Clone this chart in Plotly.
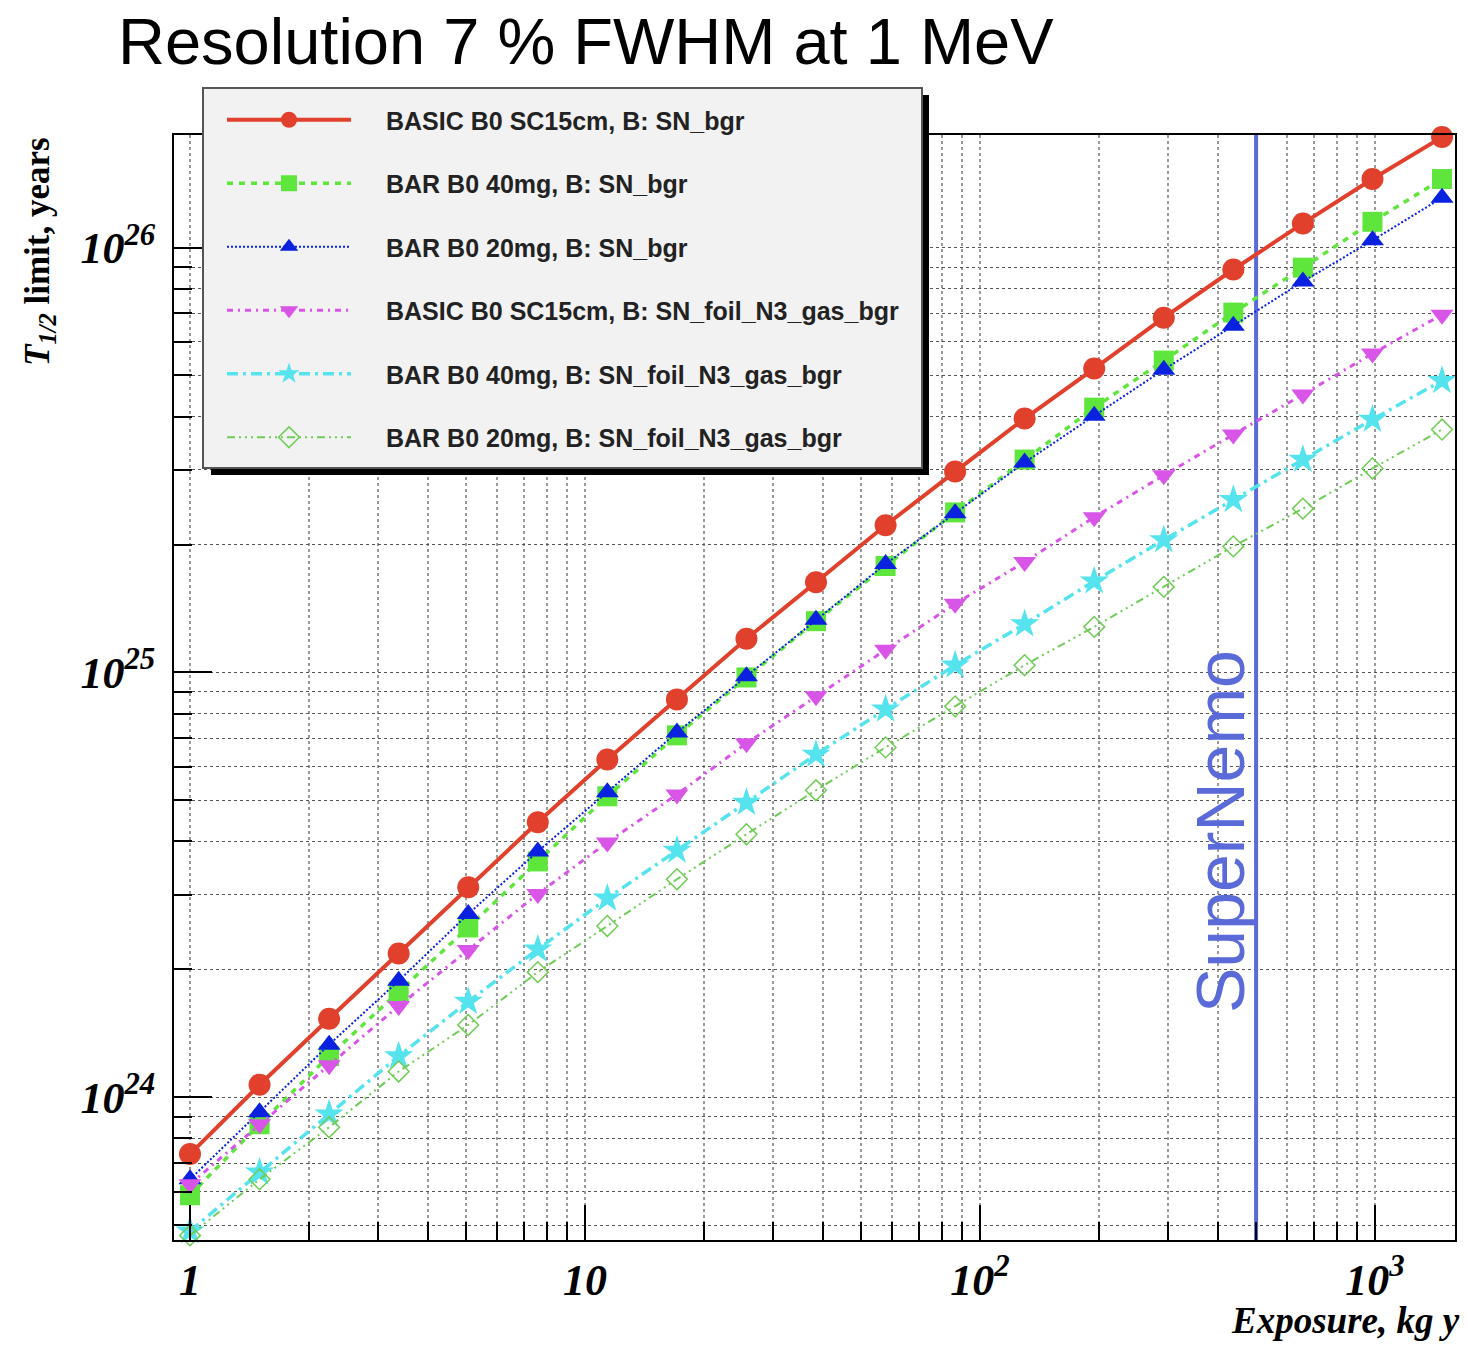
import plotly.graph_objects as go

# ---------------- data ----------------
exposure = [1, 1.5, 2.25, 3.375, 5.0625, 7.594, 11.39, 17.09, 25.63, 38.44,
            57.67, 86.50, 129.7, 194.6, 291.9, 437.9, 656.8, 985.3, 1477.9]

basic_sn = [7.35e23, 1.07e24, 1.53e24, 2.18e24, 3.12e24, 4.44e24, 6.24e24, 8.64e24, 1.20e25, 1.63e25,
            2.22e25, 2.97e25, 3.96e25, 5.19e25, 6.84e25, 8.88e25, 1.14e26, 1.45e26, 1.82e26]
bar40_sn = [5.88e23, 8.64e23, 1.25e24, 1.77e24, 2.51e24, 3.59e24, 5.11e24, 7.11e24, 9.73e24, 1.32e25,
            1.78e25, 2.38e25, 3.17e25, 4.20e25, 5.42e25, 7.03e25, 8.97e25, 1.15e26, 1.45e26]
bar20_sn = [6.41e23, 9.22e23, 1.33e24, 1.88e24, 2.70e24, 3.79e24, 5.22e24, 7.22e24, 9.79e24, 1.33e25,
            1.80e25, 2.37e25, 3.12e25, 4.02e25, 5.16e25, 6.55e25, 8.32e25, 1.04e26, 1.31e26]
basic_full = [6.24e23, 8.64e23, 1.19e24, 1.64e24, 2.22e24, 3.01e24, 3.98e24, 5.16e24, 6.81e24, 8.79e24,
              1.13e25, 1.45e25, 1.82e25, 2.32e25, 2.91e25, 3.63e25, 4.51e25, 5.63e25, 6.95e25]
bar40_full = [4.84e23, 6.66e23, 9.12e23, 1.25e24, 1.68e24, 2.23e24, 2.94e24, 3.81e24, 4.94e24, 6.41e24,
              8.19e24, 1.04e25, 1.30e25, 1.64e25, 2.05e25, 2.55e25, 3.17e25, 3.94e25, 4.86e25]
bar20_full = [4.73e23, 6.41e23, 8.50e23, 1.15e24, 1.48e24, 1.97e24, 2.53e24, 3.26e24, 4.16e24, 5.28e24,
              6.66e24, 8.32e24, 1.04e25, 1.28e25, 1.59e25, 1.98e25, 2.43e25, 3.02e25, 3.73e25]

series_names = ["BASIC B0 SC15cm, B: SN_bgr",
                "BAR B0 40mg, B: SN_bgr",
                "BAR B0 20mg, B: SN_bgr",
                "BASIC B0 SC15cm, B: SN_foil_N3_gas_bgr",
                "BAR B0 40mg, B: SN_foil_N3_gas_bgr",
                "BAR B0 20mg, B: SN_foil_N3_gas_bgr"]

supernemo_exposure = [500, 500]
supernemo_span = [1e23, 1e27]

x_tick_vals = [1, 10, 100, 1000]
x_tick_text = ["<b><i>1</i></b>", "<b><i>10</i></b>",
               "<b><i>10<sup>2</sup></i></b>", "<b><i>10<sup>3</sup></i></b>"]
y_tick_vals = [1e24, 1e25, 1e26]
y_tick_text = ["<b><i>10<sup>24</sup></i></b>", "<b><i>10<sup>25</sup></i></b>",
               "<b><i>10<sup>26</sup></i></b>"]

x_minor = [m * 10 ** e for e in range(0, 4) for m in range(2, 10) if m * 10 ** e < 1600]
y_minor = [m * 10.0 ** e for e in range(23, 27) for m in range(2, 10) if 4.6e23 < m * 10.0 ** e < 1.84e26]

# ---------------- layout helpers ----------------
W, H = 1468, 1347
L, R, T, B = 174, 13, 135, 107
PW, PH = W - L - R, H - T - B


def px(x):
    return (x - L) / PW


def py(y):
    return (H - B - y) / PH


fig = go.Figure()

fig.add_trace(go.Scatter(x=supernemo_exposure, y=supernemo_span, mode="lines",
                         line=dict(color="#5a6ad8", width=4), showlegend=False,
                         hoverinfo="skip"))

styles = [
    dict(data=basic_sn, color="#e0402c", width=4, dash="solid", symbol="circle", size=22),
    dict(data=bar40_sn, color="#5fe63c", width=3.5, dash="6px,6px", symbol="square", size=20),
    dict(data=bar20_sn, color="#0a22e0", width=2, dash="2px,2px", symbol="triangle-up", size=20),
    dict(data=basic_full, color="#d855e8", width=3, dash="6px,5px,2px,5px", symbol="triangle-down", size=20),
    dict(data=bar40_full, color="#55e3ee", width=3.5, dash="11px,5px,3px,5px", symbol="star", size=22),
    dict(data=bar20_full, color="#6fcc55", width=2, dash="8px,4px,2px,4px,2px,4px,2px,4px",
         symbol="diamond-open", size=16),
]

pad = "\u2003\u2009"
for i, (name, st) in enumerate(zip(series_names, styles)):
    fig.add_trace(go.Scatter(
        x=exposure, y=st["data"], name=pad + name, mode="lines+markers",
        legendgroup=f"g{i}", cliponaxis=False,
        line=dict(color=st["color"], width=st["width"], dash=st["dash"]),
        marker=dict(symbol=st["symbol"], size=st["size"], color=st["color"],
                    line=dict(width=1.5 if st["symbol"] == "diamond-open" else 0, color=st["color"])),
    ))

axis_common = dict(type="log", showline=True, linecolor="black", linewidth=2, mirror=True,
                   ticks="inside", tickcolor="black", tickwidth=2, showgrid=True,
                   griddash="dot", zeroline=False,
                   tickfont=dict(family="Liberation Serif", size=44, color="black"))

fig.update_xaxes(**axis_common, range=[-0.0405, 3.2025], tickmode="array",
                 tickvals=x_tick_vals, ticktext=x_tick_text, ticklen=35,
                 gridcolor="#9a9a9a", gridwidth=1.5,
                 minor=dict(tickvals=x_minor, ticks="inside", ticklen=18, tickwidth=2,
                            tickcolor="black", showgrid=True, gridcolor="#9a9a9a",
                            griddash="dot", gridwidth=1.5))
fig.update_yaxes(**axis_common, range=[23.664, 26.265], tickmode="array",
                 tickvals=y_tick_vals, ticktext=y_tick_text, ticklen=38,
                 ticklabelstandoff=8,
                 gridcolor="#555555", gridwidth=1.2,
                 minor=dict(tickvals=y_minor, ticks="inside", ticklen=18, tickwidth=2,
                            tickcolor="black", showgrid=True, gridcolor="#555555",
                            griddash="dot", gridwidth=1.2))

# legend box + shadow
fig.add_shape(type="rect", xref="paper", yref="paper", layer="above",
              x0=px(211), x1=px(929), y0=py(475), y1=py(95),
              fillcolor="black", line=dict(width=0))
fig.add_shape(type="rect", xref="paper", yref="paper", layer="above",
              x0=px(203), x1=px(922), y0=py(468), y1=py(88),
              fillcolor="#f2f2f2", line=dict(color="#555555", width=2))

fig.update_layout(
    width=W, height=H,
    margin=dict(l=L, r=R, t=T, b=B, pad=0),
    paper_bgcolor="white", plot_bgcolor="white",
    legend=dict(x=px(222), y=py(97), xanchor="left", yanchor="top",
                bgcolor="rgba(0,0,0,0)", borderwidth=0,
                font=dict(family="Liberation Sans", size=25, color="#222222", weight="bold"),
                itemwidth=124, tracegroupgap=28, traceorder="grouped"),
    annotations=[
        dict(text="Resolution 7 % FWHM at 1 MeV", xref="paper", yref="paper",
             x=px(116), y=py(41), xanchor="left", yanchor="middle", showarrow=False,
             font=dict(family="Liberation Sans", size=65, color="black")),
        dict(text="<b><i>T</i><sub><i>1/2</i></sub> limit, years</b>", xref="paper", yref="paper",
             x=px(40), y=py(252), xanchor="center", yanchor="middle", showarrow=False,
             textangle=-90, font=dict(family="Liberation Serif", size=35, color="black")),
        dict(text="<b><i>Exposure, kg y</i></b>", xref="paper", yref="paper",
             x=px(1462), y=py(1320), xanchor="right", yanchor="middle", showarrow=False,
             font=dict(family="Liberation Serif", size=37, color="black")),
        dict(text="SuperNemo", xref="paper", yref="paper",
             x=px(1220), y=py(832), xanchor="center", yanchor="middle", showarrow=False,
             textangle=-90, font=dict(family="Liberation Sans", size=68, color="#5a6ad8")),
    ],
)

fig.write_html("out.html")
